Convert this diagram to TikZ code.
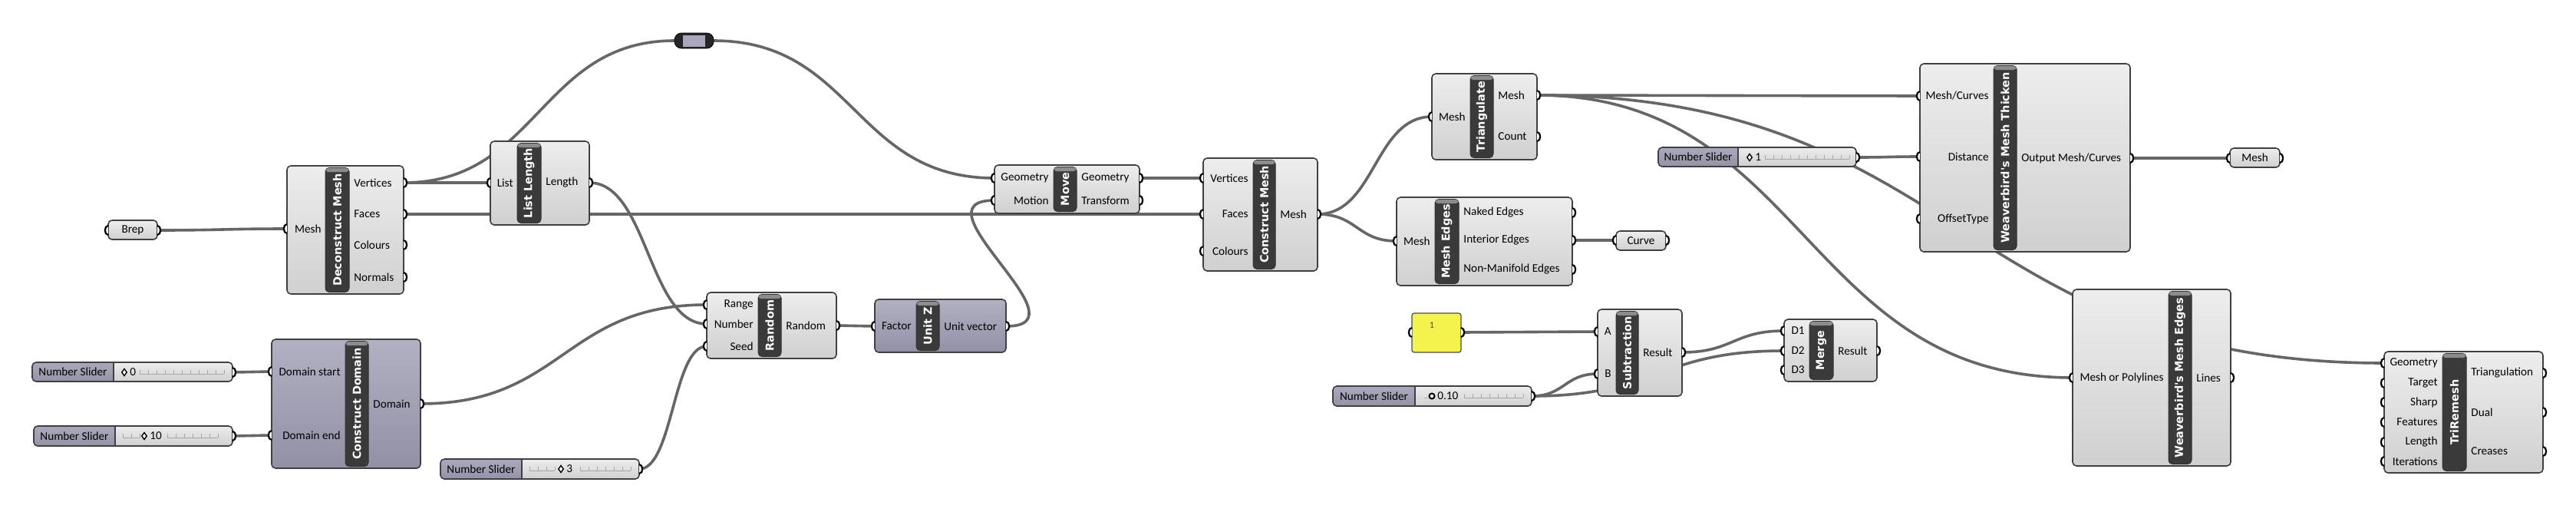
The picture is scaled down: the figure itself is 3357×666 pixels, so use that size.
\documentclass[tikz,border=0pt]{standalone}
\usepackage{fontspec}
\setmainfont{Carlito}
\newfontfamily\titlefont{DejaVu Sans}
\usetikzlibrary{calc,fit}
\pgfdeclarelayer{wires}
\pgfsetlayers{wires,main}
\definecolor{wirec}{HTML}{666666}
\definecolor{bordc}{HTML}{404040}
\definecolor{bodyT}{HTML}{EDEDED}
\definecolor{bodyB}{HTML}{D0D0D0}
\definecolor{dT}{HTML}{B2B1C3}
\definecolor{dB}{HTML}{9190A5}
\definecolor{barc}{HTML}{3A3A3A}
\definecolor{barhi}{HTML}{8C8C8C}
\definecolor{sT}{HTML}{ABAABD}
\definecolor{sB}{HTML}{9392A6}
\definecolor{trackc}{HTML}{A8A8A8}
\definecolor{panelc}{HTML}{F4F34E}
\definecolor{relayc}{HTML}{A9A8BC}
\tikzset{
 body/.style={draw=bordc, line width=0.8pt, rounded corners=2.5pt, top color=bodyT, bottom color=bodyB, inner sep=0pt, outer sep=0pt},
 dbody/.style={body, top color=dT, bottom color=dB},
 tbar/.style={draw=black!80, fill=barc, line width=0.5pt, rounded corners=2.5pt, inner sep=0pt},
 ttext/.style={text=white, font=\titlefont\bfseries\fontsize{7.2}{8}\selectfont, inner sep=0pt},
 lab/.style={font=\fontsize{7.6}{9}\selectfont, inner sep=0pt, text=black},
 port/.style={draw=black, fill=white, line width=1.1pt},
 wire/.style={draw=wirec, line width=1.8pt},
 track/.style={draw=trackc, line width=0.45pt},
}
\newcommand\comp[9]{%
 \node[#9, fit={(#2,#3) (#4,#5)}] (#1) {};
 \node[tbar, fit={(#6,#3+2.5) (#7,#5-2.5)}] (#1-t) {};
 \fill[barhi, rounded corners=1.5pt] ($(#1-t.north west)+(1.2,1.2)$) rectangle ($(#1-t.north east)+(-1.2,6)$);
 \node[ttext, rotate=90] at (#1-t.center) {#8};
}
\newcommand\iport[3]{\coordinate (#1) at (#2,#3); \draw[port] (#2,#3-6) .. controls (#2-5.5,#3-6) and (#2-5.5,#3+6) .. (#2,#3+6);}
\newcommand\oport[3]{\coordinate (#1) at (#2,#3); \draw[port] (#2,#3-6) .. controls (#2+5.5,#3-6) and (#2+5.5,#3+6) .. (#2,#3+6);}
\newcommand\inp[5]{\iport{#1}{#2}{#3}\node[lab,anchor=east] at (#4,#3) {#5};}
\newcommand\outp[5]{\oport{#1}{#2}{#3}\node[lab,anchor=west] at (#4,#3) {#5};}
\newcommand\param[6]{%
 \node[body, fit={(#2,#3) (#4,#5)}] (#1) {};
 \node[lab] at (#1.center) {#6};
}
\newcommand\slider[6]{%
 \begin{scope}
  \clip[rounded corners=2.5pt] (#2,#3) rectangle (#4,#5);
  \fill[top color=bodyT, bottom color=bodyB] (#2,#3) rectangle (#4,#5);
  \fill[top color=sT, bottom color=sB] (#2,#3) rectangle (#6,#5);
 \end{scope}
 \draw[bordc, line width=0.6pt] (#6,#3) -- (#6,#5);
 \node[draw=bordc, line width=0.8pt, rounded corners=2.5pt, inner sep=0pt, fit={(#2,#3) (#4,#5)}] (#1) {};
 \node[lab] at ($(#2,#3)!0.5!(#6,#5)$) {Number Slider};
}
\newcommand\track[3]{%
 \draw[track] (#1,#2+2) -- ({#1+11*#3},#2+2);
 \foreach \k in {0,...,#3} {\draw[track] ({#1+11*\k},#2-3) -- ({#1+11*\k},#2+2);}
}
\newcommand\diam[2]{\draw[black, line width=0.7pt, fill=white] (#1,#2-4.5) -- (#1+3.2,#2) -- (#1,#2+4.5) -- (#1-3.2,#2) -- cycle;}
\newcommand\wire[3]{\draw[wire] (#1) .. controls ($(#1)+(#3,0)$) and ($(#2)-(#3,0)$) .. (#2);}
\begin{document}
\begin{tikzpicture}[x=0.5pt, y=-0.5pt]
\useasboundingbox (0,0) rectangle (3357,666);

% ---------- Brep
\param{brep}{141}{287}{205}{312}{Brep}
\iport{brep-i}{141}{300}\oport{brep-o}{205}{300}

% ---------- Deconstruct Mesh
\comp{dm}{374}{216}{526}{383}{424}{455}{Deconstruct Mesh}{body}
\inp{dm-mesh}{374}{298}{419}{Mesh}
\outp{dm-v}{526}{238}{461}{Vertices}
\outp{dm-f}{526}{279}{461}{Faces}
\outp{dm-c}{526}{319}{461}{Colours}
\outp{dm-n}{526}{361}{461}{Normals}

% ---------- List Length
\comp{ll}{639}{184}{768}{293}{674}{705}{List Length}{body}
\inp{ll-list}{639}{238}{669}{List}
\outp{ll-len}{768}{238}{711}{Length}

% ---------- Relay
\node[fill=black!85, draw=black, rounded corners=4.5pt, inner sep=0pt, fit={(879,43) (930,63)}] (relay) {};
\fill[relayc] (890,45.5) rectangle (919,60.5);
\coordinate (relay-i) at (879,53);
\coordinate (relay-o) at (930,53);

% ---------- Move
\comp{mv}{1296}{215}{1485}{278}{1373}{1403}{Move}{body}
\inp{mv-geo}{1296}{232}{1367}{Geometry}
\inp{mv-mot}{1296}{261}{1367}{Motion}
\outp{mv-geoo}{1485}{232}{1409}{Geometry}
\outp{mv-tr}{1485}{261}{1409}{Transform}

% ---------- Construct Mesh
\comp{cm}{1568}{206}{1717}{353}{1633}{1662}{Construct Mesh}{body}
\inp{cm-v}{1568}{232}{1627}{Vertices}
\inp{cm-f}{1568}{279}{1627}{Faces}
\inp{cm-c}{1568}{327}{1627}{Colours}
\outp{cm-mesh}{1717}{279}{1668}{Mesh}

% ---------- Triangulate
\comp{tr}{1866}{96}{2003}{208}{1916}{1946}{Triangulate}{body}
\inp{tr-mesh}{1866}{152}{1910}{Mesh}
\outp{tr-out}{2003}{124}{1952}{Mesh}
\outp{tr-cnt}{2003}{178}{1952}{Count}

% ---------- Mesh Edges
\comp{me}{1820}{257}{2049}{372}{1870}{1901}{Mesh Edges}{body}
\inp{me-mesh}{1820}{314}{1864}{Mesh}
\outp{me-nak}{2049}{277}{1907}{Naked Edges}
\outp{me-int}{2049}{313}{1907}{Interior Edges}
\outp{me-nm}{2049}{351}{1907}{Non-Manifold Edges}

% ---------- Curve
\param{curve}{2106}{301}{2171}{326}{Curve}
\iport{curve-i}{2106}{313}\oport{curve-o}{2171}{313}

% ---------- Number Slider 1
\slider{s1}{2161}{192}{2419}{217}{2265}
\track{2300}{205}{10}
\diam{2280}{205}
\node[lab, anchor=west] at (2287,205) {1};
\oport{s1-o}{2419}{205}

% ---------- Mesh Thicken
\comp{mt}{2502}{83}{2776}{328}{2598}{2628}{Weaverbird's Mesh Thicken}{body}
\inp{mt-mc}{2502}{125}{2592}{Mesh/Curves}
\inp{mt-dist}{2502}{204}{2592}{Distance}
\inp{mt-off}{2502}{285}{2592}{OffsetType}
\outp{mt-out}{2776}{206}{2634}{Output Mesh/Curves}

% ---------- Mesh param
\param{meshp}{2906}{193}{2971}{218}{Mesh}
\iport{meshp-i}{2906}{206}\oport{meshp-o}{2971}{206}

% ---------- Weaverbird Mesh Edges
\comp{we}{2701}{377}{2907}{607}{2826}{2856}{Weaverbird's Mesh Edges}{body}
\inp{we-in}{2701}{492}{2820}{Mesh or Polylines}
\outp{we-lines}{2907}{492}{2862}{Lines}

% ---------- TriRemesh
\comp{trm}{3107}{458}{3314}{616}{3183}{3214}{TriRemesh}{body}
\inp{trm-geo}{3107}{473}{3177}{Geometry}
\inp{trm-tgt}{3107}{499}{3177}{Target}
\inp{trm-sh}{3107}{524}{3177}{Sharp}
\inp{trm-fe}{3107}{550}{3177}{Features}
\inp{trm-le}{3107}{576}{3177}{Length}
\inp{trm-it}{3107}{601}{3177}{Iterations}
\outp{trm-tri}{3314}{486}{3220}{Triangulation}
\outp{trm-dual}{3314}{537}{3220}{Dual}
\outp{trm-cr}{3314}{588}{3220}{Creases}

% ---------- Panel
\node[draw=black!70, line width=0.6pt, fill=panelc, rounded corners=1.5pt, inner sep=0pt, fit={(1840,408) (1904,459)}] (panel) {};
\node[lab, text=black!55!olive, font=\fontsize{6}{7}\selectfont] at (1866,424) {1};
\iport{panel-i}{1840}{433}\oport{panel-o}{1904}{433}

% ---------- Subtraction
\comp{sub}{2082}{403}{2192}{516}{2106}{2135}{Subtraction}{body}
\inp{sub-a}{2082}{432}{2100}{A}
\inp{sub-b}{2082}{487}{2100}{B}
\outp{sub-res}{2192}{459}{2141}{Result}

% ---------- Slider 0.10
\slider{s010}{1737}{503}{1996}{529}{1844}
\track{1908}{516}{7}
\draw[track] (1856,518) -- (1860,518);
\draw[black, line width=1pt, fill=white] (1866,516) circle[radius=3.5];
\node[lab, anchor=west] at (1873,516) {0.10};
\oport{s010-o}{1996}{516}

% ---------- Merge
\comp{mg}{2325}{416}{2446}{497}{2358}{2389}{Merge}{body}
\inp{mg-d1}{2325}{431}{2352}{D1}
\inp{mg-d2}{2325}{457}{2352}{D2}
\inp{mg-d3}{2325}{482}{2352}{D3}
\outp{mg-res}{2446}{457}{2395}{Result}

% ---------- Sliders 0 and 10
\slider{s0}{42}{472}{303}{497}{148}
\track{182}{485}{10}
\diam{162}{485}
\node[lab, anchor=west] at (169,485) {0};
\oport{s0-o}{303}{485}

\slider{s10}{44}{555}{303}{581}{150}
\track{160}{568}{2}
\track{218}{568}{6}
\diam{188}{568}
\node[lab, anchor=west] at (195,568) {10};
\oport{s10-o}{303}{568}

% ---------- Construct Domain
\comp{cd}{354}{442}{548}{610}{450}{480}{Construct Domain}{dbody}
\inp{cd-start}{354}{484}{444}{Domain start}
\inp{cd-end}{354}{567}{444}{Domain end}
\outp{cd-dom}{548}{526}{486}{Domain}

% ---------- Slider 3
\slider{s3}{574}{598}{833}{624}{680}
\track{690}{611}{3}
\track{756}{611}{6}
\diam{731}{611}
\node[lab, anchor=west] at (738,611) {3};
\oport{s3-o}{833}{611}

% ---------- Random
\comp{rnd}{921}{381}{1090}{467}{988}{1018}{Random}{body}
\inp{rnd-range}{921}{397}{982}{Range}
\inp{rnd-num}{921}{422}{982}{Number}
\inp{rnd-seed}{921}{451}{982}{Seed}
\outp{rnd-o}{1090}{424}{1024}{Random}

% ---------- Unit Z
\comp{uz}{1140}{390}{1311}{459}{1194}{1224}{Unit Z}{dbody}
\inp{uz-f}{1140}{425}{1188}{Factor}
\outp{uz-o}{1311}{425}{1230}{Unit vector}

% ---------- Wires
\begin{pgfonlayer}{wires}
\fill[white] (0,0) rectangle (3357,666);
\wire{brep-o}{dm-mesh}{80}
\wire{dm-v}{ll-list}{50}
\wire{dm-v}{relay-i}{175}
\wire{relay-o}{mv-geo}{183}
\wire{dm-f}{cm-f}{300}
\wire{ll-len}{rnd-num}{76}
\wire{cd-dom}{rnd-range}{186}
\wire{s3-o}{rnd-seed}{44}
\wire{s0-o}{cd-start}{25}
\wire{s10-o}{cd-end}{25}
\wire{rnd-o}{uz-f}{25}
\wire{uz-o}{mv-mot}{110}
\wire{mv-geoo}{cm-v}{40}
\wire{cm-mesh}{tr-mesh}{75}
\wire{cm-mesh}{me-mesh}{52}
\wire{me-int}{curve-i}{28}
\wire{tr-out}{mt-mc}{250}
\wire{tr-out}{we-in}{349}
\wire{tr-out}{trm-geo}{552}
\wire{s1-o}{mt-dist}{40}
\wire{mt-out}{meshp-i}{65}
\wire{panel-o}{sub-a}{89}
\wire{s010-o}{sub-b}{43}
\wire{s010-o}{mg-d2}{164}
\wire{sub-res}{mg-d1}{66}
\end{pgfonlayer}
\end{tikzpicture}
\end{document}
